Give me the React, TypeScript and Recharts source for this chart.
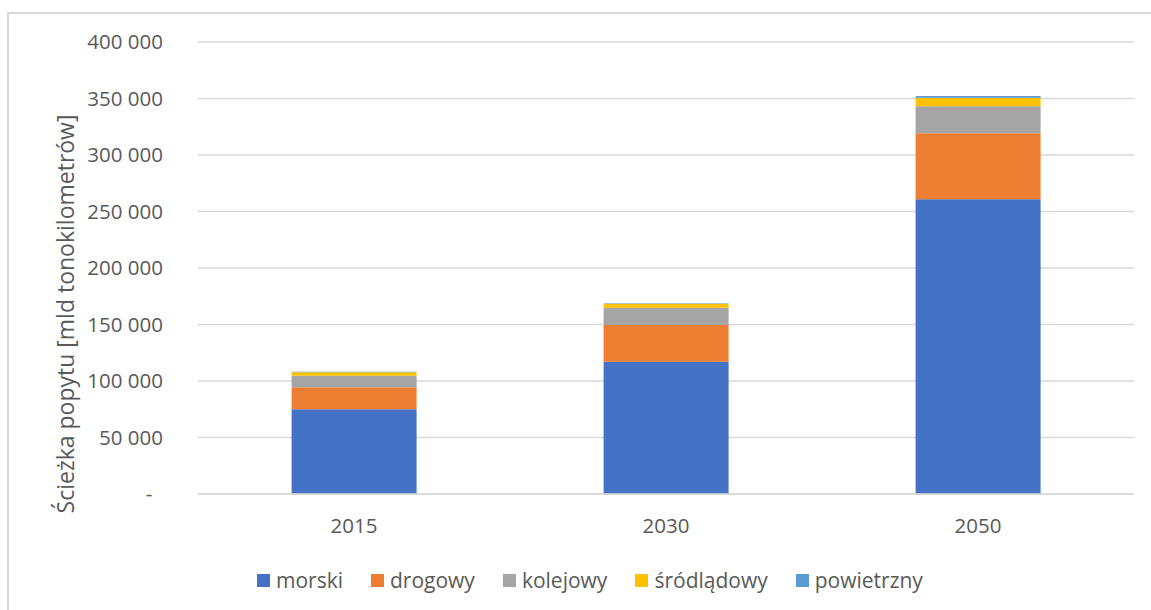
import React from 'react';
import { BarChart, Bar, XAxis, YAxis, CartesianGrid } from 'recharts';

const years = ['2015', '2030', '2050'];
const morski = [75000, 117000, 260800];
const drogowy = [19400, 32500, 58400];
const kolejowy = [10300, 15300, 23900];
const srodladowy = [3000, 3500, 7600];
const powietrzny = [500, 600, 1500];
const yTicks = [0, 50000, 100000, 150000, 200000, 250000, 300000, 350000, 400000];
const seriesNames = ['morski', 'drogowy', 'kolejowy', 'śródlądowy', 'powietrzny'];
const seriesKeys = ['morski', 'drogowy', 'kolejowy', 'srodladowy', 'powietrzny'];
const seriesColors = ['#4472C4', '#ED7D31', '#A5A5A5', '#FFC000', '#5B9BD5'];
const yTitle = 'Ścieżka popytu [mld tonokilometrów]';

const data = years.map((y, i) => ({
  year: y,
  morski: morski[i],
  drogowy: drogowy[i],
  kolejowy: kolejowy[i],
  srodladowy: srodladowy[i],
  powietrzny: powietrzny[i],
}));

const FONT = '"Open Sans", "Noto Sans", sans-serif';
const TEXT = '#595959';
const GRID = '#d9d9d9';

const fmt = (n: number) =>
  n === 0 ? '-\u00A0\u00A0' : String(n).replace(/\B(?=(\d{3})+(?!\d))/g, ' ');

const YTitle = () => (
  <text
    x={65}
    y={314}
    transform="rotate(-90, 65, 314)"
    textAnchor="middle"
    dominantBaseline="central"
    fill={TEXT}
    fontSize={23}
    fontFamily={FONT}
  >
    {yTitle}
  </text>
);

export default function App() {
  return (
    <div
      style={{
        position: 'absolute',
        left: 0,
        top: 0,
        width: 1151,
        height: 610,
        overflow: 'hidden',
        background: '#fff',
        fontFamily: FONT,
      }}
    >
      <div
        style={{
          position: 'absolute',
          left: 7,
          top: 12,
          width: 1300,
          height: 800,
          borderTop: `2px solid ${GRID}`,
          borderLeft: `2px solid ${GRID}`,
        }}
      />
      <div style={{ position: 'absolute', left: 0, top: 0 }}>
        <BarChart
          width={1151}
          height={610}
          data={data}
          margin={{ top: 42, right: 17, left: 0, bottom: 76 }}
          barCategoryGap="30%"
        >
          <CartesianGrid vertical={false} stroke={GRID} strokeWidth={1.5} />
          <XAxis
            dataKey="year"
            height={40}
            axisLine={{ stroke: GRID, strokeWidth: 1.5 }}
            tickLine={false}
            tickSize={0}
            tickMargin={24}
            tick={{ fill: TEXT, fontSize: 20.5, fontFamily: FONT }}
          />
          <YAxis
            width={198}
            domain={[0, 400000]}
            ticks={yTicks}
            interval={0}
            axisLine={false}
            tickLine={false}
            tickSize={0}
            tickMargin={35}
            tickFormatter={fmt}
            tick={{ fill: TEXT, fontSize: 20.5, fontFamily: FONT }}
            label={{ content: () => <YTitle /> }}
          />
          {seriesKeys.map((k, i) => (
            <Bar
              key={k}
              dataKey={k}
              name={seriesNames[i]}
              stackId="a"
              fill={seriesColors[i]}
              isAnimationActive={false}
            />
          ))}
        </BarChart>
      </div>
      <div
        style={{
          position: 'absolute',
          left: 257,
          top: 568,
          height: 25,
          display: 'flex',
          alignItems: 'center',
          whiteSpace: 'nowrap',
        }}
      >
        {seriesNames.map((n, i) => (
          <div
            key={n}
            style={{
              display: 'flex',
              alignItems: 'center',
              marginRight: i < seriesNames.length - 1 ? 28 : 0,
            }}
          >
            <div
              style={{
                width: 13,
                height: 13,
                background: seriesColors[i],
                marginRight: 6,
              }}
            />
            <span style={{ fontSize: 21, color: TEXT, lineHeight: '25px' }}>{n}</span>
          </div>
        ))}
      </div>
    </div>
  );
}
